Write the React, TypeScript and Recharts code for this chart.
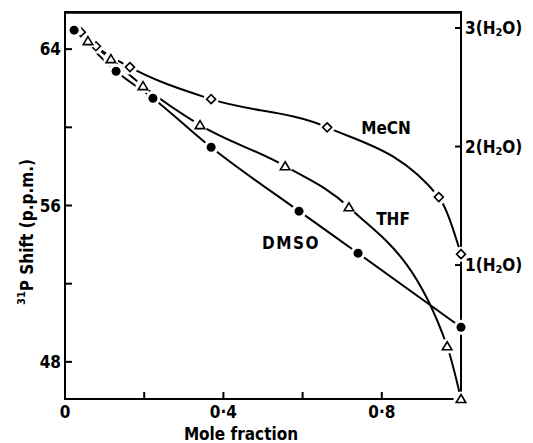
import React from "react";
import { LineChart, Line, XAxis, YAxis, ReferenceArea } from "recharts";

// mole fraction of solvent vs 31P shift
const MOLE_DMSO = [0.023, 0.129, 0.222, 0.369, 0.591, 0.74, 1.0];
const SHIFT_DMSO = [64.97, 62.87, 61.49, 58.98, 55.71, 53.56, 49.77];

const MOLE_MECN = [0.04, 0.078, 0.164, 0.369, 0.662, 0.944, 1.0];
const SHIFT_MECN = [64.87, 64.15, 63.08, 61.44, 60.0, 56.43, 53.51];

const MOLE_THF = [0.058, 0.116, 0.197, 0.341, 0.556, 0.717, 0.965, 1.0];
const SHIFT_THF = [64.41, 63.49, 62.11, 60.11, 58.01, 55.91, 48.8, 46.1];

const X_TICKS = [0, 0.2, 0.4, 0.6, 0.8];
const X_LABELS: Record<string, string> = { "0": "0", "0.4": "0·4", "0.8": "0·8" };
const LEFT_TICKS = [48, 52, 56, 60, 64];
const LEFT_LABELS = [48, 56, 64];
const RIGHT_TICKS = [1, 2, 3];
const X_DOMAIN = [0, 1];
const SHIFT_DOMAIN = [46.1, 65.9];

const toPoints = (xs: number[], ys: number[]) => xs.map((x, i) => ({ x, y: ys[i] }));
const dmso = toPoints(MOLE_DMSO, SHIFT_DMSO);
const mecn = toPoints(MOLE_MECN, SHIFT_MECN);
const thf = toPoints(MOLE_THF, SHIFT_THF);

const W = 533;
const H = 443;
const PLOT_LEFT = 65;
const PLOT_RIGHT = 461;
const PLOT_TOP = 12;
const PLOT_BOTTOM = 399;

const FONT = {
  fontFamily: "'DejaVu Sans Condensed', 'DejaVu Sans', sans-serif",
  fontWeight: 700,
  fontSize: 17,
  fill: "#000",
};

const AXIS_LINE = { stroke: "#000", strokeWidth: 2 };

function LeftTick(props: any) {
  const { payload } = props;
  const y = payload.coordinate ?? props.y;
  return (
    <g>
      <line x1={PLOT_LEFT} x2={PLOT_LEFT + 7} y1={y} y2={y} stroke="#000" strokeWidth={2} />
      {LEFT_LABELS.includes(payload.value) && (
        <text x={PLOT_LEFT - 4} y={y} textAnchor="end" dominantBaseline="central" style={FONT}>
          {payload.value}
        </text>
      )}
    </g>
  );
}

function RightTick(props: any) {
  const { payload } = props;
  const y = payload.coordinate ?? props.y;
  return (
    <g>
      <line x1={PLOT_RIGHT} x2={PLOT_RIGHT - 6} y1={y} y2={y} stroke="#000" strokeWidth={2} />
      <text x={PLOT_RIGHT + 4} y={y} dominantBaseline="central" style={FONT}>
        <tspan>{`${payload.value}(H`}</tspan>
        <tspan dy={4} fontSize={11}>2</tspan>
        <tspan dy={-4}>O)</tspan>
      </text>
    </g>
  );
}

function BottomTick(props: any) {
  const { payload } = props;
  const x = payload.coordinate ?? props.x;
  const label = X_LABELS[String(payload.value)];
  return (
    <g>
      <line x1={x} x2={x} y1={PLOT_BOTTOM} y2={PLOT_BOTTOM - 7} stroke="#000" strokeWidth={2} />
      {label && (
        <text x={x} y={PLOT_BOTTOM + 13} textAnchor="middle" dominantBaseline="central" style={FONT}>
          {label}
        </text>
      )}
    </g>
  );
}

// markers sit on a white disc so the line breaks around them
function Dot(props: any) {
  const { cx, cy } = props;
  if (cx == null || cy == null) return null;
  return (
    <g>
      <circle cx={cx} cy={cy} r={7.5} fill="#fff" />
      <circle cx={cx} cy={cy} r={4.5} fill="#000" />
    </g>
  );
}

function Triangle(props: any) {
  const { cx, cy } = props;
  if (cx == null || cy == null) return null;
  const pts = `${cx},${cy - 4.5} ${cx + 4.8},${cy + 3.5} ${cx - 4.8},${cy + 3.5}`;
  return (
    <g>
      <circle cx={cx} cy={cy} r={7.5} fill="#fff" />
      <polygon points={pts} fill="#fff" stroke="#000" strokeWidth={1.6} />
    </g>
  );
}

function Diamond(props: any) {
  const { cx, cy } = props;
  if (cx == null || cy == null) return null;
  const pts = `${cx},${cy - 4.5} ${cx + 4.5},${cy} ${cx},${cy + 4.5} ${cx - 4.5},${cy}`;
  return (
    <g>
      <circle cx={cx} cy={cy} r={7.5} fill="#fff" />
      <polygon points={pts} fill="#fff" stroke="#000" strokeWidth={1.6} />
    </g>
  );
}

export default function App() {
  return (
    <div style={{ position: "fixed", left: 0, top: 0, width: W, height: H, background: "#fff" }}>
      <LineChart width={W} height={H} margin={{ top: PLOT_TOP, right: 0, bottom: 0, left: 0 }}>
        <XAxis
          dataKey="x"
          type="number"
          domain={X_DOMAIN}
          ticks={X_TICKS}
          tick={<BottomTick />}
          tickLine={false}
          axisLine={AXIS_LINE}
          height={H - PLOT_BOTTOM}
        />
        <YAxis
          yAxisId="left"
          type="number"
          domain={SHIFT_DOMAIN}
          ticks={LEFT_TICKS}
          tick={<LeftTick />}
          tickLine={false}
          axisLine={AXIS_LINE}
          width={PLOT_LEFT}
        />
        {/* no series on this axis, so its domain has to be fixed */}
        <YAxis
          yAxisId="right"
          orientation="right"
          type="number"
          domain={[-0.13, 3.135]}
          ticks={RIGHT_TICKS}
          tick={<RightTick />}
          tickLine={false}
          axisLine={AXIS_LINE}
          width={W - PLOT_RIGHT}
          allowDataOverflow
        />
        {/* box round the plot, gives the top edge of the frame */}
        <ReferenceArea
          yAxisId="left"
          x1={X_DOMAIN[0]}
          x2={X_DOMAIN[1]}
          y1={SHIFT_DOMAIN[0]}
          y2={SHIFT_DOMAIN[1]}
          fill="none"
          fillOpacity={0}
          stroke="#000"
          strokeWidth={2}
          strokeOpacity={1}
          ifOverflow="visible"
        />
        <Line
          data={mecn}
          dataKey="y"
          yAxisId="left"
          type="monotone"
          stroke="#000"
          strokeWidth={2}
          dot={<Diamond />}
          activeDot={false}
          isAnimationActive={false}
        />
        <Line
          data={thf}
          dataKey="y"
          yAxisId="left"
          type="monotone"
          stroke="#000"
          strokeWidth={2}
          dot={<Triangle />}
          activeDot={false}
          isAnimationActive={false}
        />
        <Line
          data={dmso}
          dataKey="y"
          yAxisId="left"
          type="monotone"
          stroke="#000"
          strokeWidth={2}
          dot={<Dot />}
          activeDot={false}
          isAnimationActive={false}
        />
      </LineChart>
      <svg
        width={W}
        height={H}
        style={{ position: "absolute", left: 0, top: 0, pointerEvents: "none", zIndex: 2 }}
      >
        <path
          d={`M${PLOT_LEFT - 1} ${PLOT_TOP + 0.5} H${PLOT_RIGHT + 1}`}
          stroke="#000"
          strokeWidth={2.5}
          fill="none"
        />
        <text x={386} y={128} textAnchor="middle" dominantBaseline="central" style={FONT}>
          MeCN
        </text>
        <text x={393} y={219} textAnchor="middle" dominantBaseline="central" style={FONT}>
          THF
        </text>
        <text
          x={291}
          y={243}
          textAnchor="middle"
          dominantBaseline="central"
          style={{ ...FONT, letterSpacing: 1.5 }}
        >
          DMSO
        </text>
        <text x={241} y={434} textAnchor="middle" dominantBaseline="central" style={FONT}>
          Mole fraction
        </text>
        <text
          x={27}
          y={232}
          textAnchor="middle"
          dominantBaseline="central"
          transform="rotate(-90, 27, 232)"
          style={FONT}
        >
          <tspan fontSize={11} dy={-6}>31</tspan>
          <tspan dy={6}>{"P Shift  (p.p.m.)"}</tspan>
        </text>
      </svg>
    </div>
  );
}
